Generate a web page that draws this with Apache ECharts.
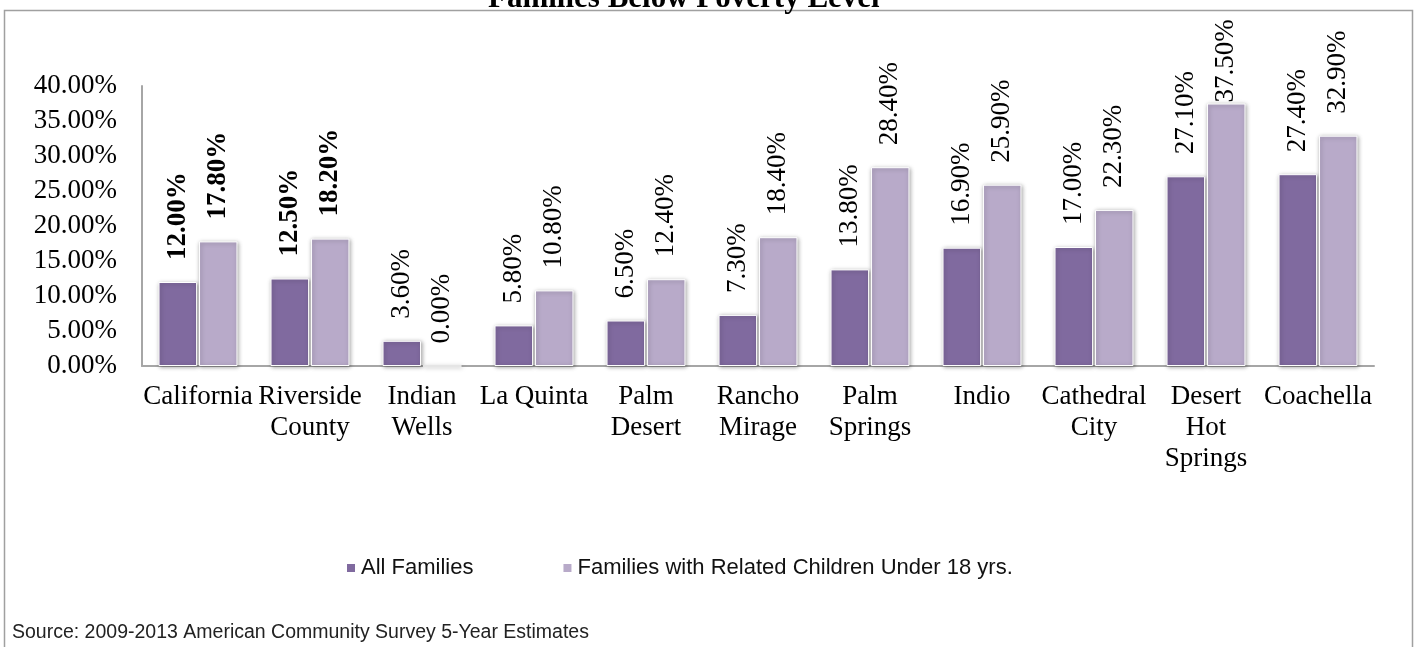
<!DOCTYPE html>
<html>
<head>
<meta charset="utf-8">
<script src="https://cdn.jsdelivr.net/npm/echarts@6/dist/echarts.min.js"></script>
<style>
html,body{margin:0;padding:0;background:#fff;}
#chart{width:1417px;height:647px;}
</style>
</head>
<body>
<div id="chart"></div>
<script>
const titleText = 'Families Below Poverty Level';
const categories = ['California', 'Riverside\nCounty', 'Indian\nWells', 'La Quinta', 'Palm\nDesert', 'Rancho\nMirage', 'Palm\nSprings', 'Indio', 'Cathedral\nCity', 'Desert\nHot\nSprings', 'Coachella'];
const seriesNames = ['All Families', 'Families with Related Children Under 18 yrs.'];
const allFamilies = [12.0, 12.5, 3.6, 5.8, 6.5, 7.3, 13.8, 16.9, 17.0, 27.1, 27.4];
const withChildren = [17.8, 18.2, 0.0, 10.8, 12.4, 18.4, 28.4, 25.9, 22.3, 37.5, 32.9];
const boldCategories = ['California', 'Riverside\nCounty'];
const yTicks = [0, 5, 10, 15, 20, 25, 30, 35, 40];
const sourceText = 'Source: 2009-2013 American Community Survey 5-Year Estimates';

const colors = ['#806a9f', '#b8aac9'];
const serif = '"Liberation Serif", "Times New Roman", serif';
const sans = '"Liberation Sans", Arial, sans-serif';

function buildData(values) {
  return values.map((v, i) => {
    const item = { value: v };
    const lbl = {};
    if (boldCategories.indexOf(categories[i]) >= 0) lbl.fontWeight = 'bold';
    if (v >= 35) lbl.distance = 1;
    if (Object.keys(lbl).length) item.label = lbl;
    return item;
  });
}

function makeSeries(name, values, color) {
  return {
    name: name,
    type: 'bar',
    data: buildData(values),
    barGap: '5%',
    barCategoryGap: '29.5%',
    itemStyle: {
      color: color,
      borderColor: '#ffffff',
      borderWidth: 1,
      shadowBlur: 4,
      shadowOffsetX: 1,
      shadowOffsetY: 1,
      shadowColor: 'rgba(0,0,0,0.35)'
    },
    label: {
      show: true,
      position: 'top',
      rotate: 90,
      align: 'left',
      verticalAlign: 'middle',
      distance: 22,
      fontFamily: serif,
      fontSize: 27,
      color: '#000',
      formatter: p => p.value.toFixed(2) + '%'
    },
    emphasis: { disabled: true }
  };
}

const chart = echarts.init(document.getElementById('chart'), null, { renderer: 'canvas' });
chart.setOption({
  animation: false,
  backgroundColor: '#ffffff',
  title: {
    text: titleText,
    left: 483,
    top: -22,
    textStyle: { fontFamily: serif, fontWeight: 'bold', fontSize: 31, lineHeight: 31, color: '#000' }
  },
  graphic: [
    {
      type: 'rect',
      shape: { x: 4.5, y: 10.5, width: 1408, height: 700 },
      style: { fill: null, stroke: '#a0a0a0', lineWidth: 1.5 },
      z: -1
    },
    {
      type: 'text',
      left: 12,
      top: 623,
      style: { text: sourceText, font: '19.5px ' + sans, fill: '#222' }
    }
  ],
  legend: {
    data: seriesNames,
    left: 340,
    top: 552,
    icon: 'rect',
    itemWidth: 10,
    itemHeight: 10,
    itemGap: 88,
    textStyle: { fontFamily: sans, fontSize: 22, color: '#111' }
  },
  grid: { left: 142, right: 43, top: 86, bottom: 281, containLabel: false },
  xAxis: {
    type: 'category',
    data: categories,
    axisTick: { show: false },
    axisLine: { lineStyle: { color: '#a6a6a6', width: 2 } },
    axisLabel: {
      interval: 0,
      margin: 15,
      fontFamily: serif,
      fontSize: 27,
      lineHeight: 31,
      color: '#000'
    }
  },
  yAxis: {
    type: 'value',
    min: 0,
    max: 40,
    interval: 5,
    splitLine: { show: false },
    axisTick: { show: false },
    axisLine: { show: true, lineStyle: { color: '#a6a6a6', width: 2 } },
    axisLabel: {
      margin: 25,
      fontFamily: serif,
      fontSize: 27,
      color: '#000',
      formatter: v => yTicks.indexOf(v) >= 0 ? v.toFixed(2) + '%' : ''
    }
  },
  series: [
    makeSeries(seriesNames[0], allFamilies, colors[0]),
    makeSeries(seriesNames[1], withChildren, colors[1])
  ]
});
</script>
</body>
</html>
